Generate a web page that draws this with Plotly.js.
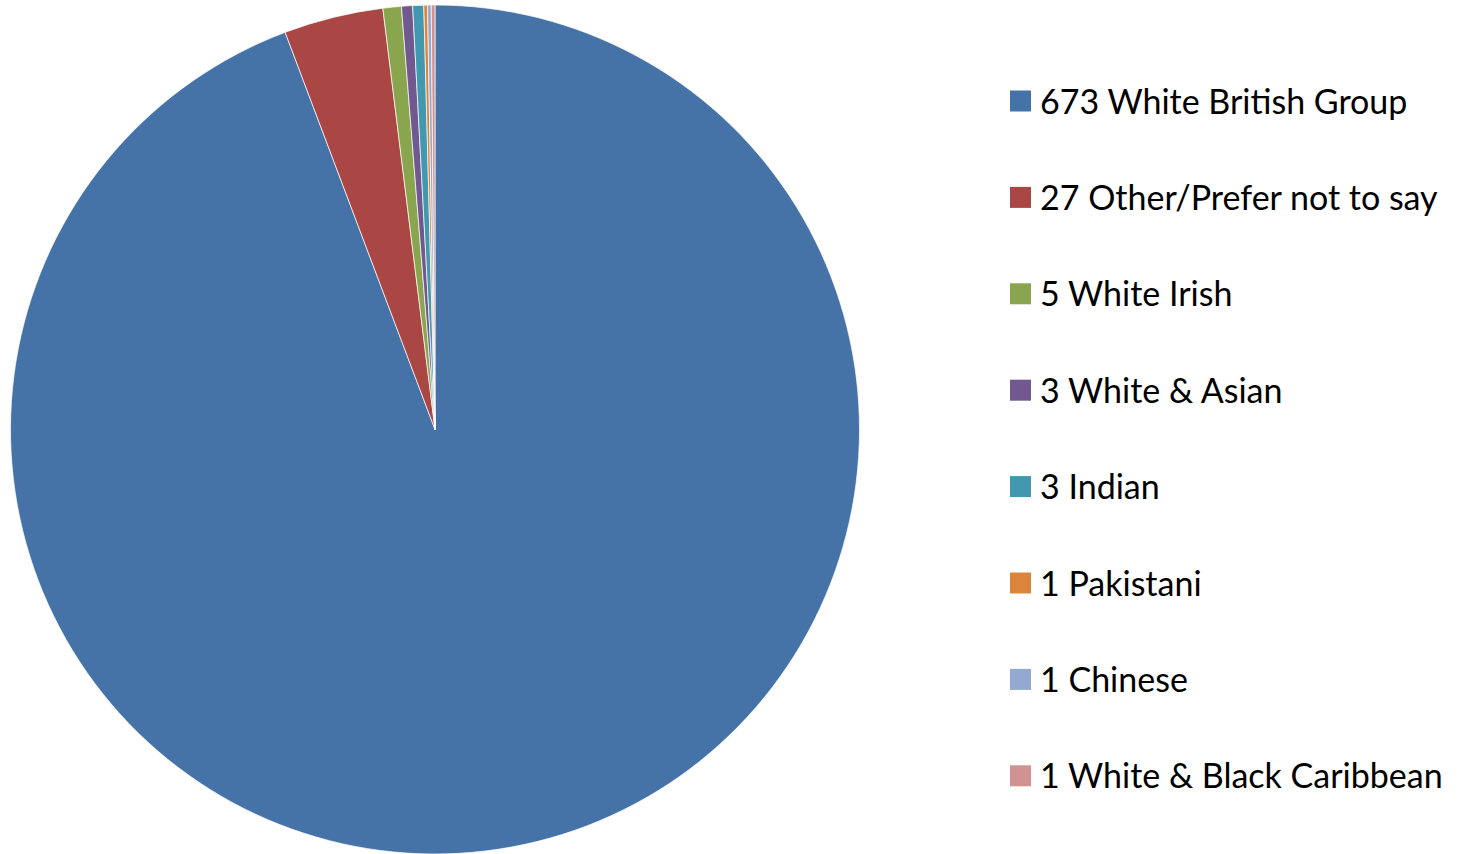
<!DOCTYPE html>
<html>
<head>
<meta charset="utf-8">
<script src="https://cdn.plot.ly/plotly-3.0.1.min.js"></script>
<style>
  html, body { margin: 0; padding: 0; background: #fff; }
  #chart { width: 1457px; height: 854px; }
</style>
</head>
<body>
<div id="chart"></div>
<script>
// Ethnicity breakdown
const labels = [
  '673 White British Group',
  '27 Other/Prefer not to say',
  '5 White Irish',
  '3 White & Asian',
  '3 Indian',
  '1 Pakistani',
  '1 Chinese',
  '1 White & Black Caribbean'
];
const counts = [673, 27, 5, 3, 3, 1, 1, 1];
const colors = ['#4572A7', '#AA4643', '#89A54E', '#71588F', '#4198AF', '#DB843D', '#93A9CF', '#D19392'];

const W = 1457, H = 854;

var trace = {
  type: 'pie',
  labels: labels,
  values: counts,
  sort: false,
  direction: 'clockwise',
  rotation: 0,
  textinfo: 'none',
  hoverinfo: 'none',
  showlegend: false,
  marker: { colors: colors, line: { color: 'rgba(255,255,255,0.7)', width: 1 } },
  domain: { x: [10 / W, 860 / W], y: [0, 849 / H] }
};

// legend drawn by hand so the row spacing matches
var shapes = [];
var annotations = [];
for (let i = 0; i < labels.length; i++) {
  var yc = 101 + i * 96.4;
  shapes.push({
    type: 'rect', xref: 'paper', yref: 'paper',
    x0: 1010 / W, x1: 1031 / W,
    y0: 1 - (yc - 10.5) / H, y1: 1 - (yc + 10.5) / H,
    fillcolor: colors[i], line: { width: 0 }
  });
  annotations.push({
    xref: 'paper', yref: 'paper',
    x: 1038 / W, y: 1 - (yc - 1) / H,
    xanchor: 'left', yanchor: 'middle',
    text: labels[i], showarrow: false,
    font: { family: 'Lato, "Open Sans", sans-serif', size: 34, color: '#000' }
  });
}

var layout = {
  width: W,
  height: H,
  margin: { l: 0, r: 0, t: 0, b: 0 },
  paper_bgcolor: '#fff',
  showlegend: false,
  shapes: shapes,
  annotations: annotations
};

Plotly.newPlot('chart', [trace], layout, { displayModeBar: false, staticPlot: true });
</script>
</body>
</html>
